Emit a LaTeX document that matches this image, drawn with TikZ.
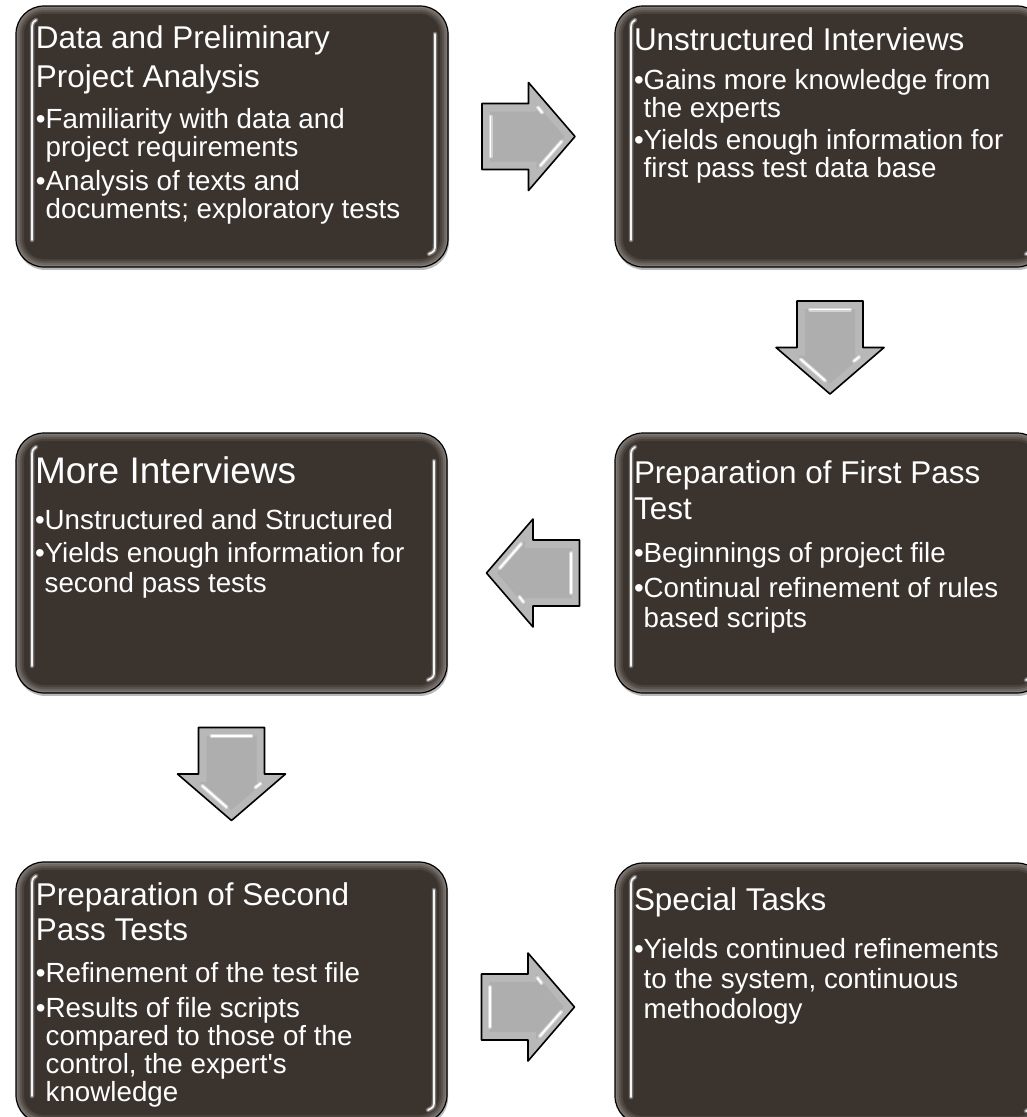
\documentclass[tikz,border=0pt]{standalone}
\usepackage{fontspec}
\setmainfont{Liberation Sans}
\usetikzlibrary{calc,shadows}
\newdimen\px \px=0.75pt
\definecolor{boxfill}{RGB}{59,51,46}
\definecolor{bevA}{RGB}{128,122,118}
\definecolor{bevB}{RGB}{110,103,98}
\definecolor{bevC}{RGB}{90,83,78}
\definecolor{bevD}{RGB}{73,66,61}
\definecolor{arrowfill}{RGB}{184,184,184}
\definecolor{arrowface}{RGB}{174,174,174}
\newcommand{\ttl}{\fontsize{23.6pt}{23.6pt}\selectfont}
\newcommand{\ttlbig}{\fontsize{27.75pt}{27.75pt}\selectfont}
\newcommand{\btx}{\fontsize{20.8pt}{20.8pt}\selectfont}
\newcommand{\Ln}[2]{\vskip#1\px\hbox{#2}}
\newcommand{\Blk}[1]{\vtop{\baselineskip=0pt\lineskip=0pt\lineskiplimit=-\maxdimen #1}}
\newcommand{\bl}{•}
\newcommand{\hg}{\hphantom{•}}
\tikzset{
  boxnode/.style={draw=black, line width=1.2\px, fill=bevA, rounded corners=21pt,
    inner sep=0pt, outer sep=0pt, anchor=north west,
    drop shadow={shadow xshift=0.8pt, shadow yshift=-2.2pt, opacity=.28, fill=black}},
  txt/.style={inner sep=0pt, outer sep=0pt, anchor=base west, text=white},
  shineU/.style={draw=gray!70, line width=4.5\px, opacity=.55, line cap=round},
  shineT/.style={draw=white!92!gray, line width=1.8\px, line cap=round},
  arrowline/.style={draw=black, line width=1.6\px, line join=round},
  ashineU/.style={draw=white, line width=4\px, opacity=.45, line cap=round},
  ashineT/.style={draw=white, line width=1.8\px, line cap=round},
  blkarrow/.pic={
    \draw[arrowline, fill=arrowfill] (-46.5,-33)--(0,-33)--(0,-54)--(46.5,0)--(0,54)--(0,33)--(-46.5,33)--cycle;
    \fill[arrowface] (-38.5,-25)--(8,-25)--(8,-32.6)--(35.9,0)--(8,32.6)--(8,25)--(-38.5,25)--cycle;
    \draw[ashineU] (-38,-20)--(-38,20);
    \draw[ashineT] (-38,-20)--(-38,20);
    \draw[ashineU] (12,29)--(33,5);
    \draw[ashineT] (12,29)--(33,5);
    \draw[ashineU] (9.5,-29)--(13.5,-24);
    \draw[ashineT] (9.5,-29)--(13.5,-24);
  }
}
\newcommand{\fancybox}[5]{%
  \node[boxnode, minimum width=#4\px, minimum height=#5\px] (#1) at (#2,#3) {};
  \foreach \d/\c/\r in {2/bevB/19.5pt,4/bevC/18pt,6/bevD/16.5pt,8/boxfill/15pt}
    \fill[\c, rounded corners=\r] ([shift={(\d,-\d)}]#1.south west) rectangle ([shift={(-\d,\d)}]#1.north east);
  \foreach \s in {shineU,shineT}{
    \draw[\s] ([shift={(20,14)}]#1.north west) .. controls ([shift={(16,17)}]#1.north west) .. ([shift={(16,26)}]#1.north west) -- ([shift={(16,-27)}]#1.south west);
    \draw[\s] ([shift={(-13,28)}]#1.north east) -- ([shift={(-13,-24)}]#1.south east) .. controls ([shift={(-13,-16)}]#1.south east) .. ([shift={(-19,-13)}]#1.south east);
  }
}
\begin{document}
\begin{tikzpicture}[x=0.75pt, y=-0.75pt]
\useasboundingbox (0,0) rectangle (1027,1117);
\fill[white] (0,0) rectangle (1027,1117);
\clip (0,0) rectangle (1027,1117);

% boxes
\fancybox{b1}{16}{6}{432}{261}
\fancybox{b2}{615}{6}{430}{261}
\fancybox{b3}{16}{433}{431}{260}
\fancybox{b4}{615}{433}{430}{260}
\fancybox{b5}{16}{862}{431}{261}
\fancybox{b6}{615}{863}{430}{261}

% texts
\node[txt] (t1) at ([shift={(20,42)}]b1.north west) {\Blk{%
  \hbox{\ttl Data and Preliminary}%
  \Ln{39}{\ttl Project Analysis}%
  \Ln{41}{\btx\bl Familiarity with data and}%
  \Ln{28.5}{\btx\hg project requirements}%
  \Ln{33.5}{\btx\bl Analysis of texts and}%
  \Ln{28.5}{\btx\hg documents; exploratory tests}}};

\node[txt] (t2) at ([shift={(19,44)}]b2.north west) {\Blk{%
  \hbox{\ttl Unstructured Interviews}%
  \Ln{39}{\btx\bl Gains more knowledge from}%
  \Ln{29}{\btx\hg the experts}%
  \Ln{31}{\btx\bl Yields enough information for}%
  \Ln{29}{\btx\hg first pass test data base}}};

\node[txt] (t3) at ([shift={(19,50)}]b3.north west) {\Blk{%
  \hbox{\ttlbig More Interviews}%
  \Ln{46}{\btx\bl Unstructured and Structured}%
  \Ln{33}{\btx\bl Yields enough information for}%
  \Ln{30}{\btx\hg second pass tests}}};

\node[txt] (t4) at ([shift={(19,50)}]b4.north west) {\Blk{%
  \hbox{\ttl Preparation of First Pass}%
  \Ln{36}{\ttl Test}%
  \Ln{43}{\btx\bl Beginnings of project file}%
  \Ln{35}{\btx\bl Continual refinement of rules}%
  \Ln{30}{\btx\hg based scripts}}};

\node[txt] (t5) at ([shift={(20,43)}]b5.north west) {\Blk{%
  \hbox{\ttl Preparation of Second}%
  \Ln{35}{\ttl Pass Tests}%
  \Ln{42}{\btx\bl Refinement of the test file}%
  \Ln{35}{\btx\bl Results of file scripts}%
  \Ln{28}{\btx\hg compared to those of the}%
  \Ln{28}{\btx\hg control, the expert\textquotesingle s}%
  \Ln{28}{\btx\hg knowledge}}};

\node[txt] (t6) at ([shift={(19,47)}]b6.north west) {\Blk{%
  \hbox{\ttl Special Tasks}%
  \Ln{48}{\btx\bl Yields continued refinements}%
  \Ln{30}{\btx\hg to the system, continuous}%
  \Ln{30}{\btx\hg methodology}}};

% arrows between boxes
\coordinate (a1) at ($(b1.east)!0.5!(b2.west)+(-3,0)$);
\coordinate (a2) at ($(b2.south)!0.5!(b4.north)+(0,-2.5)$);
\coordinate (a3) at ($(b4.west)!0.5!(b3.east)+(2,10)$);
\coordinate (a4) at ($(b3.south)!0.5!(b5.north)+(0,-3.5)$);
\coordinate (a5) at ($(b5.east)!0.5!(b6.west)+(-3,14)$);
\pic at (a1) {blkarrow};
\pic[rotate=-90] at (a2) {blkarrow};
\pic[rotate=180] at (a3) {blkarrow};
\pic[rotate=-90] at (a4) {blkarrow};
\pic at (a5) {blkarrow};
\end{tikzpicture}
\end{document}
